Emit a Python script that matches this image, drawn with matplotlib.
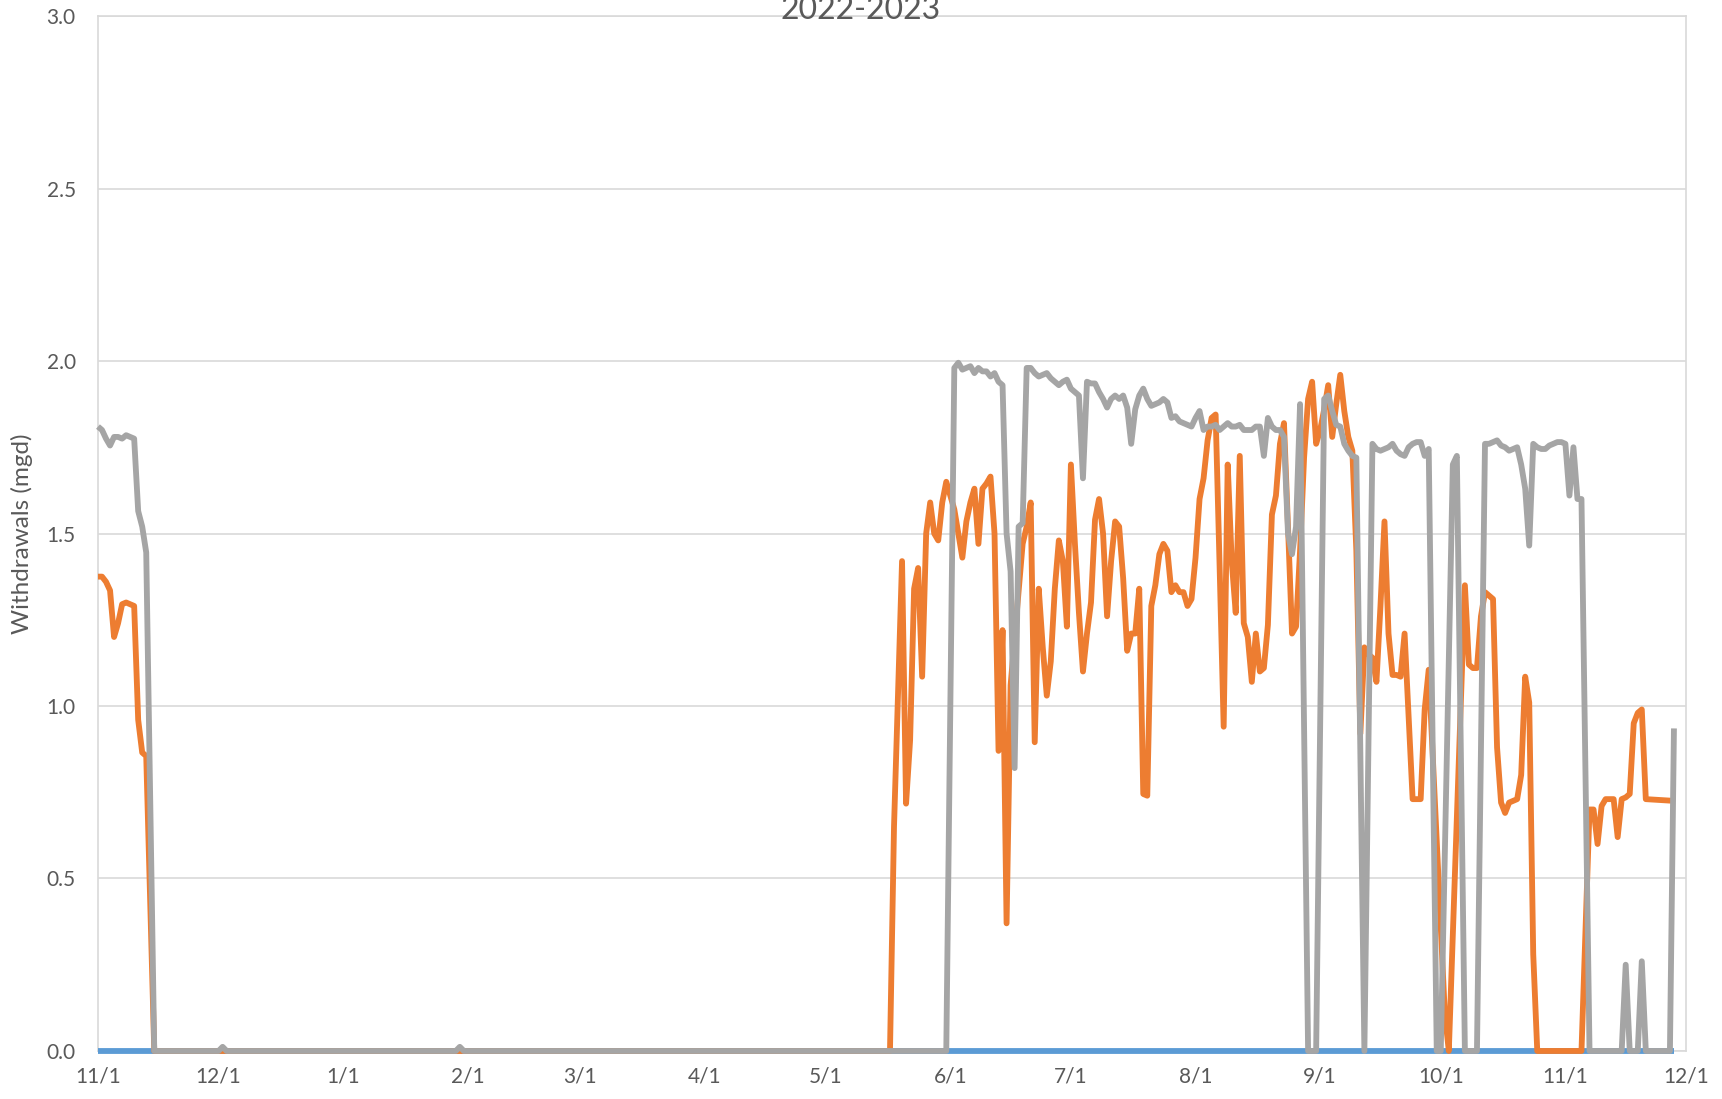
import numpy as np
import matplotlib
matplotlib.use("Agg")
import matplotlib.pyplot as plt
import matplotlib.dates as mdates
from matplotlib.ticker import FuncFormatter, MultipleLocator

plt.rcParams["font.family"] = ["Lato", "DejaVu Sans"]

TEXT = "#595959"
GRID = "#D9D9D9"
BLUE = "#5B9BD5"
ORANGE = "#ED7D31"
GRAY = "#A5A5A5"

START = np.datetime64("2022-11-01")
END = np.datetime64("2023-12-01")
TITLE = "2022-2023"
YLABEL = "Withdrawals (mgd)"

# daily withdrawals, stored as breakpoints: days after 11/1/2022 -> mgd
blue_days = [0, 392]
blue_mgd = [0.0, 0.0]

orange_days = [
    0, 1, 2, 3, 4, 5, 6, 7, 8, 9, 10, 11, 12, 14,
    197, 198, 200, 201, 202, 203, 204, 205, 206, 207, 208, 209, 210, 211,
    213, 215, 216, 217, 218, 219, 220, 221, 222, 223, 224, 225, 226, 227,
    230, 231, 232, 233, 234, 235, 236, 237, 238, 239, 240, 241, 242, 243,
    244, 245, 246, 247, 248, 249, 250, 251, 252, 253, 254, 255, 256, 257,
    258, 259, 260, 261, 262, 263, 264, 265, 266, 267, 268, 269, 270, 271,
    272, 273, 274, 275, 276, 277, 278, 279, 280, 281, 282, 283, 284, 285,
    286, 287, 288, 289, 290, 291, 292, 293, 294, 295, 296, 297, 298, 299,
    300, 301, 302, 303, 304, 305, 306, 307, 308, 309, 310, 311, 312, 313,
    314, 315, 316, 317, 318, 319, 320, 321, 322, 323, 324, 325, 326, 327,
    328, 329, 330, 331, 335, 336, 340, 341, 342, 343, 344, 345, 346, 347,
    348, 349, 350, 351, 352, 353, 354, 355, 356, 357, 358, 369, 371, 372,
    373, 374, 375, 376, 377, 378, 379, 380, 381, 382, 383, 384, 385, 392,
]
orange_mgd = [
    1.375, 1.375, 1.36, 1.335, 1.20, 1.24, 1.295, 1.30, 1.295, 1.29, 0.96, 0.865, 0.855, 0.0,
    0.0, 0.65, 1.42, 0.717, 0.90, 1.34, 1.40, 1.085, 1.50, 1.59, 1.50, 1.48, 1.59, 1.65,
    1.57, 1.43, 1.535, 1.59, 1.63, 1.47, 1.63, 1.645, 1.665, 1.50, 0.87, 1.22, 0.37, 1.06,
    1.47, 1.52, 1.59, 0.895, 1.34, 1.17, 1.03, 1.13, 1.34, 1.48, 1.42, 1.23, 1.70, 1.47,
    1.27, 1.10, 1.21, 1.30, 1.54, 1.60, 1.50, 1.26, 1.42, 1.535, 1.52, 1.37, 1.16, 1.21,
    1.21, 1.34, 0.745, 0.74, 1.29, 1.35, 1.44, 1.47, 1.45, 1.33, 1.35, 1.33, 1.33, 1.29,
    1.31, 1.43, 1.60, 1.66, 1.77, 1.835, 1.845, 1.40, 0.94, 1.70, 1.42, 1.27, 1.725, 1.24,
    1.20, 1.07, 1.21, 1.10, 1.11, 1.235, 1.555, 1.61, 1.76, 1.82, 1.52, 1.21, 1.23, 1.45,
    1.72, 1.89, 1.94, 1.76, 1.80, 1.86, 1.93, 1.78, 1.875, 1.96, 1.855, 1.78, 1.74, 1.45,
    0.92, 1.17, 1.15, 1.14, 1.07, 1.29, 1.535, 1.21, 1.09, 1.09, 1.085, 1.21, 0.97, 0.73,
    0.73, 0.73, 0.99, 1.105, 0.11, 0.0, 1.35, 1.12, 1.11, 1.11, 1.26, 1.33, 1.32, 1.31,
    0.88, 0.72, 0.69, 0.72, 0.725, 0.73, 0.80, 1.085, 1.01, 0.28, 0.0, 0.0, 0.70, 0.70,
    0.60, 0.71, 0.73, 0.73, 0.73, 0.62, 0.73, 0.735, 0.745, 0.95, 0.98, 0.99, 0.73, 0.725,
]

gray_days = [
    0, 1, 2, 3, 4, 5, 6, 7, 8, 9, 10, 11, 12, 14, 30, 31, 32, 89, 90, 91,
    211, 213, 214, 215, 216, 217, 218, 219, 220, 221, 222, 223, 224, 225,
    226, 227, 228, 229, 230, 231, 232, 233, 234, 235, 236, 237, 238, 239,
    240, 241, 242, 243, 244, 245, 246, 247, 248, 249, 250, 251, 252, 253,
    254, 255, 256, 257, 258, 259, 260, 261, 262, 263, 264, 265, 266, 267,
    268, 269, 270, 271, 272, 273, 274, 275, 276, 277, 278, 279, 280, 281,
    282, 283, 284, 285, 286, 287, 288, 289, 290, 291, 292, 293, 294, 295,
    296, 297, 298, 299, 301, 303, 305, 306, 307, 308, 309, 310, 311, 312,
    313, 315, 317, 318, 319, 320, 321, 322, 323, 324, 325, 326, 327, 328,
    329, 330, 331, 333, 334, 337, 338, 340, 343, 345, 346, 347, 348, 349,
    350, 351, 352, 353, 354, 355, 356, 357, 358, 359, 360, 361, 362, 363,
    364, 365, 366, 367, 368, 369, 371, 379, 380, 381, 383, 384, 385, 391, 392,
]
gray_mgd = [
    1.81, 1.80, 1.775, 1.755, 1.78, 1.78, 1.775, 1.785, 1.78, 1.775, 1.565, 1.52, 1.445, 0.0,
    0.0, 0.012, 0.0, 0.0, 0.012, 0.0,
    0.0, 1.98, 1.995, 1.975, 1.98, 1.985, 1.965, 1.98, 1.97, 1.97, 1.955, 1.965, 1.94, 1.93,
    1.50, 1.39, 0.82, 1.52, 1.53, 1.98, 1.98, 1.965, 1.955, 1.96, 1.965, 1.95, 1.94, 1.93,
    1.94, 1.946, 1.92, 1.91, 1.90, 1.66, 1.94, 1.935, 1.935, 1.91, 1.89, 1.865, 1.89, 1.90,
    1.89, 1.90, 1.865, 1.76, 1.86, 1.90, 1.92, 1.89, 1.87, 1.875, 1.88, 1.89, 1.88, 1.835,
    1.84, 1.825, 1.82, 1.815, 1.81, 1.835, 1.855, 1.80, 1.81, 1.81, 1.815, 1.80, 1.81, 1.82,
    1.81, 1.81, 1.815, 1.80, 1.80, 1.80, 1.81, 1.81, 1.725, 1.835, 1.81, 1.80, 1.80, 1.78,
    1.50, 1.44, 1.52, 1.875, 0.0, 0.0, 1.89, 1.90, 1.855, 1.815, 1.81, 1.76, 1.74, 1.725,
    1.72, 0.0, 1.76, 1.745, 1.74, 1.745, 1.75, 1.76, 1.74, 1.73, 1.725, 1.75, 1.76, 1.765,
    1.765, 1.725, 1.745, 0.0, 0.0, 1.70, 1.725, 0.0, 0.0, 1.76, 1.76, 1.765, 1.77, 1.755,
    1.75, 1.74, 1.745, 1.75, 1.70, 1.63, 1.465, 1.76, 1.75, 1.745, 1.745, 1.755, 1.76, 1.765,
    1.765, 1.76, 1.61, 1.75, 1.60, 1.60, 0.0, 0.0, 0.25, 0.0, 0.0, 0.26, 0.0, 0.0, 0.935,
]


def to_dates(days):
    return START + np.array(days, dtype="timedelta64[D]")


def month_label(x, _pos):
    d = mdates.num2date(x)
    return f"{d.month}/{d.day}"


fig = plt.figure(figsize=(17.22, 10.99), dpi=100, facecolor="white")
AX_BOTTOM, AX_HEIGHT = 0.0437, 0.9417
ax = fig.add_axes([0.0569, AX_BOTTOM, 0.9222, AX_HEIGHT])

series = [(blue_days, blue_mgd, BLUE), (orange_days, orange_mgd, ORANGE),
          (gray_days, gray_mgd, GRAY)]
for z, (days, vals, color) in enumerate(series):
    ax.plot(to_dates(days), vals, color=color, lw=4.2, solid_joinstyle="round",
            solid_capstyle="butt", clip_on=False, zorder=3 + z)

ax.set_xlim(START, END)
ax.set_ylim(0, 3.0)
ax.xaxis.set_major_locator(mdates.MonthLocator(bymonthday=1))
ax.xaxis.set_major_formatter(FuncFormatter(month_label))
ax.yaxis.set_major_locator(MultipleLocator(0.5))
ax.yaxis.set_major_formatter(FuncFormatter(lambda v, _p: f"{v:.1f}"))

ax.grid(axis="y", color=GRID, lw=1.2)
ax.grid(axis="x", visible=False)
ax.set_axisbelow(True)
for sp in ax.spines.values():
    sp.set_color(GRID)
    sp.set_linewidth(1.2)
ax.tick_params(axis="both", length=0, labelsize=15, labelcolor=TEXT)
ax.tick_params(axis="y", pad=16)
ax.tick_params(axis="x", pad=11)

fig.text(0.0128, AX_BOTTOM + AX_HEIGHT / 2, YLABEL, rotation=90, ha="center",
         va="center", fontsize=17.5, color=TEXT)
fig.text(0.5, 0.983, TITLE, ha="center", va="baseline", fontsize=23, color=TEXT)

fig.savefig("out.png", dpi=100, facecolor="white")
